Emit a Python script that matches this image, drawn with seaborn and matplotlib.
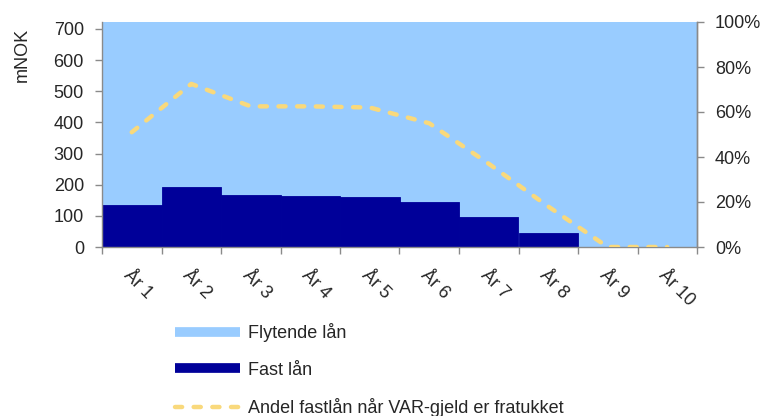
import numpy as np
import matplotlib
matplotlib.use("Agg")
import matplotlib.pyplot as plt
from matplotlib.lines import Line2D
from matplotlib.ticker import FuncFormatter
import seaborn as sns

# Data (mNOK per year, share of fixed-rate loans in percent)
years = ["År 1", "År 2", "År 3", "År 4", "År 5", "År 6", "År 7", "År 8", "År 9", "År 10"]
fast_lan = [136, 192, 166, 164, 162, 146, 96, 46, 0, 0]
flytende_lan = [620, 570, 600, 600, 600, 620, 660, 720, 760, 760]
andel_fast = [51, 72.5, 62.5, 62.5, 62, 55, 37, 18, 0, 0]

y_ticks = [0, 100, 200, 300, 400, 500, 600, 700]
pct_ticks = [0, 20, 40, 60, 80, 100]

LIGHT = "#99CCFF"
NAVY = "#000099"
LINE = "#F9D97C"
AXIS = "#8A8A8A"
FS = 13

sns.set_style("ticks")
plt.rcParams["font.family"] = ["Liberation Sans", "DejaVu Sans"]
plt.rcParams["font.size"] = FS

fig = plt.figure(figsize=(7.69, 4.16), dpi=100)
ax = fig.add_axes([102 / 769, 1 - 247 / 416, 595 / 769, 225 / 416])

pos = np.arange(len(years))
total = [a + b for a, b in zip(fast_lan, flytende_lan)]

# Stacked columns without gaps: total first, fixed-rate part on top
sns.barplot(x=years, y=total, color=LIGHT, width=1.0, saturation=1,
            edgecolor=LIGHT, linewidth=1, ax=ax)
sns.barplot(x=years, y=fast_lan, color=NAVY, width=1.0, saturation=1,
            edgecolor=NAVY, linewidth=0.6, ax=ax)

ax.set_xlim(-0.5, len(years) - 0.5)
ax.set_ylim(0, 722)
ax.set_yticks(y_ticks)
ax.set_ylabel("mNOK", fontsize=FS)
ax.yaxis.set_label_coords(-0.12, 0.853)
ax.set_xlabel("")

ax.set_xticks(pos)
ax.set_xticklabels(years, rotation=-45, ha="left", va="top",
                   rotation_mode="anchor")
ax.set_xticks(np.arange(-0.5, len(years)), minor=True)
ax.tick_params(axis="x", which="major", length=0, pad=14)
ax.tick_params(axis="x", which="minor", length=5, color=AXIS, width=1)
ax.tick_params(axis="y", length=5, color=AXIS, width=1, pad=8)

for side in ["left", "bottom", "right"]:
    ax.spines[side].set_color(AXIS)
    ax.spines[side].set_linewidth(1)
ax.spines["top"].set_visible(False)

# Secondary axis with the fixed-rate share
ax2 = ax.twinx()
sns.lineplot(x=pos, y=andel_fast, ax=ax2, color=LINE, linewidth=3.2,
             dashes=False, legend=False)
line = ax2.lines[0]
line.set_dashes((1.6, 2.6))
line.set_dash_capstyle("round")
line.set_solid_joinstyle("round")
ax2.set_ylim(0, 100)
ax2.set_yticks(pct_ticks)
ax2.yaxis.set_major_formatter(FuncFormatter(lambda v, p: f"{v:.0f}%"))
ax2.tick_params(axis="y", length=5, color=AXIS, width=1, pad=8)
ax2.set_ylabel("")
for side in ["top", "left", "bottom"]:
    ax2.spines[side].set_visible(False)
ax2.spines["right"].set_color(AXIS)
ax2.spines["right"].set_linewidth(1)

handles = [
    Line2D([], [], color=LIGHT, linewidth=7, solid_capstyle="butt"),
    Line2D([], [], color=NAVY, linewidth=7, solid_capstyle="butt"),
    Line2D([], [], color=LINE, linewidth=3.2, dashes=(1.6, 2.6),
           dash_capstyle="round"),
]
labels = ["Flytende lån", "Fast lån", "Andel fastlån når VAR-gjeld er fratukket"]
fig.legend(handles, labels, loc="upper left",
           bbox_to_anchor=(168 / 769, 1 - 316 / 416), frameon=False,
           handlelength=3.6, handletextpad=0.45, labelspacing=1.08,
           borderaxespad=0, fontsize=FS)

fig.savefig("out.png", dpi=100)
